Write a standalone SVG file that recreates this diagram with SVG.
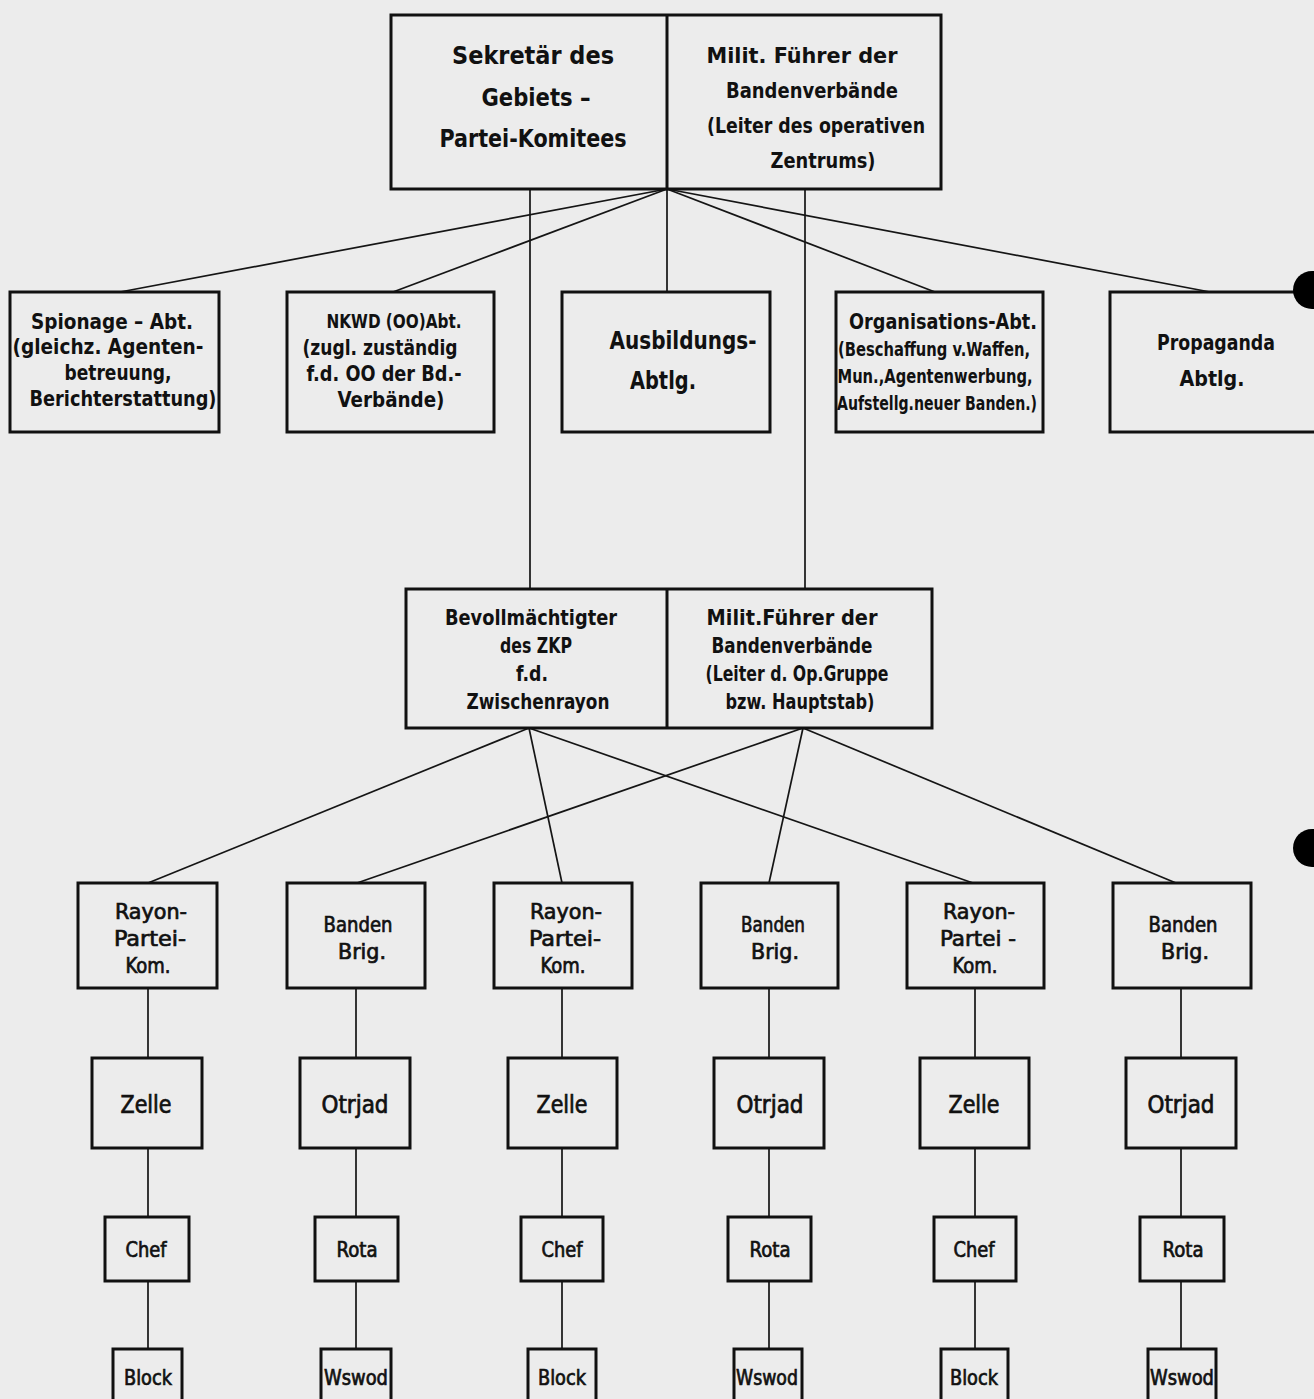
<svg xmlns="http://www.w3.org/2000/svg" width="1314" height="1399" viewBox="0 0 1314 1399">
<style>
.bg{fill:#ececec}
.box{fill:#ececec;stroke:#111;stroke-width:3}
.ln{stroke:#151515;stroke-width:1.7;fill:none}
text{font-family:"DejaVu Sans Condensed","Liberation Sans Narrow","DejaVu Sans","Liberation Sans",sans-serif;fill:#111;text-anchor:middle;font-weight:bold}
.t24{font-size:24px}
.t22{font-size:22px}
.t21{font-size:21px}
.t20{font-size:20px}
.t19{font-size:19px}
.t18{font-size:18px}
.n{font-weight:normal;stroke:#111;stroke-width:0.7}
</style>
<rect class="bg" x="0" y="0" width="1314" height="1399"/>
<g id="connectors">
<line class="ln" x1="667" y1="189" x2="120" y2="292"/>
<line class="ln" x1="667" y1="189" x2="393" y2="292"/>
<line class="ln" x1="667" y1="189" x2="667" y2="292"/>
<line class="ln" x1="667" y1="189" x2="935" y2="292"/>
<line class="ln" x1="667" y1="189" x2="1210" y2="292"/>
<line class="ln" x1="530" y1="189" x2="530" y2="589"/>
<line class="ln" x1="805" y1="189" x2="805" y2="589"/>
<line class="ln" x1="529" y1="728" x2="148" y2="883"/>
<line class="ln" x1="529" y1="728" x2="562" y2="883"/>
<line class="ln" x1="529" y1="728" x2="973" y2="883"/>
<line class="ln" x1="803" y1="728" x2="357" y2="883"/>
<line class="ln" x1="803" y1="728" x2="769" y2="883"/>
<line class="ln" x1="803" y1="728" x2="1176" y2="883"/>
<line class="ln" x1="148" y1="988" x2="148" y2="1349"/>
<line class="ln" x1="356" y1="988" x2="356" y2="1349"/>
<line class="ln" x1="562" y1="988" x2="562" y2="1349"/>
<line class="ln" x1="769" y1="988" x2="769" y2="1349"/>
<line class="ln" x1="975" y1="988" x2="975" y2="1349"/>
<line class="ln" x1="1181" y1="988" x2="1181" y2="1349"/>
</g>
<g id="top">
<rect class="box" x="391" y="15" width="550" height="174"/>
<line x1="667" y1="15" x2="667" y2="189" stroke="#111" stroke-width="3"/>
<text class="t24" x="533" y="64" textLength="162" lengthAdjust="spacingAndGlyphs">Sekretär des</text>
<text class="t24" x="536" y="106" textLength="109" lengthAdjust="spacingAndGlyphs">Gebiets –</text>
<text class="t24" x="533" y="147" textLength="187" lengthAdjust="spacingAndGlyphs">Partei-Komitees</text>
<text class="t22" x="802" y="63" textLength="191" lengthAdjust="spacingAndGlyphs">Milit. Führer der</text>
<text class="t22" x="812" y="98" textLength="172" lengthAdjust="spacingAndGlyphs">Bandenverbände</text>
<text class="t22" x="816" y="133" textLength="218" lengthAdjust="spacingAndGlyphs">(Leiter des operativen</text>
<text class="t22" x="823" y="168" textLength="105" lengthAdjust="spacingAndGlyphs">Zentrums)</text>
</g>
<g id="spionage">
<rect class="box" x="10" y="292" width="209" height="140"/>
<text class="t21" x="112" y="329" textLength="162" lengthAdjust="spacingAndGlyphs">Spionage – Abt.</text>
<text class="t21" x="108" y="354" textLength="191" lengthAdjust="spacingAndGlyphs">(gleichz. Agenten-</text>
<text class="t21" x="118" y="380" textLength="107" lengthAdjust="spacingAndGlyphs">betreuung,</text>
<text class="t21" x="123" y="406" textLength="187" lengthAdjust="spacingAndGlyphs">Berichterstattung)</text>
</g>
<g id="nkwd">
<rect class="box" x="287" y="292" width="207" height="140"/>
<text class="t20" x="394" y="328" textLength="135" lengthAdjust="spacingAndGlyphs">NKWD (OO)Abt.</text>
<text class="t21" x="380" y="355" textLength="155" lengthAdjust="spacingAndGlyphs">(zugl. zuständig</text>
<text class="t21" x="384" y="381" textLength="155" lengthAdjust="spacingAndGlyphs">f.d. OO der Bd.-</text>
<text class="t21" x="391" y="407" textLength="107" lengthAdjust="spacingAndGlyphs">Verbände)</text>
</g>
<g id="ausbildung">
<rect class="box" x="562" y="292" width="208" height="140"/>
<text class="t24" x="683" y="349" textLength="147" lengthAdjust="spacingAndGlyphs">Ausbildungs-</text>
<text class="t24" x="663" y="389" textLength="66" lengthAdjust="spacingAndGlyphs">Abtlg.</text>
</g>
<g id="organisation">
<rect class="box" x="836" y="292" width="207" height="140"/>
<text class="t21" x="943" y="329" textLength="188" lengthAdjust="spacingAndGlyphs">Organisations-Abt.</text>
<text class="t19" x="934" y="356" textLength="192" lengthAdjust="spacingAndGlyphs">(Beschaffung v.Waffen,</text>
<text class="t19" x="935" y="383" textLength="195" lengthAdjust="spacingAndGlyphs">Mun.,Agentenwerbung,</text>
<text class="t19" x="937" y="410" textLength="200" lengthAdjust="spacingAndGlyphs">Aufstellg.neuer Banden.)</text>
</g>
<g id="propaganda">
<rect class="box" x="1110" y="292" width="220" height="140"/>
<text class="t22" x="1216" y="350" textLength="118" lengthAdjust="spacingAndGlyphs">Propaganda</text>
<text class="t22" x="1212" y="386" textLength="65" lengthAdjust="spacingAndGlyphs">Abtlg.</text>
</g>
<g id="dots">
<circle cx="1312" cy="290" r="19" fill="#000"/>
<circle cx="1312" cy="848" r="19" fill="#000"/>
</g>
<g id="middle">
<rect class="box" x="406" y="589" width="526" height="139"/>
<line x1="667" y1="589" x2="667" y2="728" stroke="#111" stroke-width="3"/>
<text class="t21" x="531" y="625" textLength="172" lengthAdjust="spacingAndGlyphs">Bevollmächtigter</text>
<text class="t21" x="536" y="653" textLength="72" lengthAdjust="spacingAndGlyphs">des ZKP</text>
<text class="t21" x="532" y="681" textLength="32" lengthAdjust="spacingAndGlyphs">f.d.</text>
<text class="t21" x="538" y="709" textLength="143" lengthAdjust="spacingAndGlyphs">Zwischenrayon</text>
<text class="t21" x="792" y="625" textLength="171" lengthAdjust="spacingAndGlyphs">Milit.Führer der</text>
<text class="t21" x="792" y="653" textLength="161" lengthAdjust="spacingAndGlyphs">Bandenverbände</text>
<text class="t21" x="797" y="681" textLength="183" lengthAdjust="spacingAndGlyphs">(Leiter d. Op.Gruppe</text>
<text class="t21" x="800" y="709" textLength="149" lengthAdjust="spacingAndGlyphs">bzw. Hauptstab)</text>
</g>
<g id="rayon1">
<rect class="box" x="78" y="883" width="139" height="105"/>
<text class="t22 n" x="151" y="919" textLength="72" lengthAdjust="spacingAndGlyphs">Rayon-</text>
<text class="t22 n" x="150" y="946" textLength="72" lengthAdjust="spacingAndGlyphs">Partei-</text>
<text class="t22 n" x="148" y="973" textLength="45" lengthAdjust="spacingAndGlyphs">Kom.</text>
</g>
<g id="banden2">
<rect class="box" x="287" y="883" width="138" height="105"/>
<text class="t22 n" x="358" y="932" textLength="69" lengthAdjust="spacingAndGlyphs">Banden</text>
<text class="t22 n" x="362" y="959" textLength="48" lengthAdjust="spacingAndGlyphs">Brig.</text>
</g>
<g id="rayon3">
<rect class="box" x="494" y="883" width="138" height="105"/>
<text class="t22 n" x="566" y="919" textLength="72" lengthAdjust="spacingAndGlyphs">Rayon-</text>
<text class="t22 n" x="565" y="946" textLength="72" lengthAdjust="spacingAndGlyphs">Partei-</text>
<text class="t22 n" x="563" y="973" textLength="45" lengthAdjust="spacingAndGlyphs">Kom.</text>
</g>
<g id="banden4">
<rect class="box" x="701" y="883" width="137" height="105"/>
<text class="t22 n" x="773" y="932" textLength="64" lengthAdjust="spacingAndGlyphs">Banden</text>
<text class="t22 n" x="775" y="959" textLength="48" lengthAdjust="spacingAndGlyphs">Brig.</text>
</g>
<g id="rayon5">
<rect class="box" x="907" y="883" width="137" height="105"/>
<text class="t22 n" x="979" y="919" textLength="72" lengthAdjust="spacingAndGlyphs">Rayon-</text>
<text class="t22 n" x="978" y="946" textLength="76" lengthAdjust="spacingAndGlyphs">Partei -</text>
<text class="t22 n" x="975" y="973" textLength="45" lengthAdjust="spacingAndGlyphs">Kom.</text>
</g>
<g id="banden6">
<rect class="box" x="1113" y="883" width="138" height="105"/>
<text class="t22 n" x="1183" y="932" textLength="69" lengthAdjust="spacingAndGlyphs">Banden</text>
<text class="t22 n" x="1185" y="959" textLength="48" lengthAdjust="spacingAndGlyphs">Brig.</text>
</g>
<g id="zelle1"><rect class="box" x="92" y="1058" width="110" height="90"/><text class="t24 n" x="146" y="1113" textLength="51" lengthAdjust="spacingAndGlyphs">Zelle</text></g>
<g id="otrjad2"><rect class="box" x="300" y="1058" width="110" height="90"/><text class="t24 n" x="355" y="1113" textLength="67" lengthAdjust="spacingAndGlyphs">Otrjad</text></g>
<g id="zelle3"><rect class="box" x="508" y="1058" width="109" height="90"/><text class="t24 n" x="562" y="1113" textLength="51" lengthAdjust="spacingAndGlyphs">Zelle</text></g>
<g id="otrjad4"><rect class="box" x="714" y="1058" width="110" height="90"/><text class="t24 n" x="770" y="1113" textLength="67" lengthAdjust="spacingAndGlyphs">Otrjad</text></g>
<g id="zelle5"><rect class="box" x="920" y="1058" width="109" height="90"/><text class="t24 n" x="974" y="1113" textLength="51" lengthAdjust="spacingAndGlyphs">Zelle</text></g>
<g id="otrjad6"><rect class="box" x="1126" y="1058" width="110" height="90"/><text class="t24 n" x="1181" y="1113" textLength="67" lengthAdjust="spacingAndGlyphs">Otrjad</text></g>
<g id="chef1"><rect class="box" x="105" y="1217" width="84" height="64"/><text class="t21 n" x="146" y="1257" textLength="41" lengthAdjust="spacingAndGlyphs">Chef</text></g>
<g id="rota2"><rect class="box" x="315" y="1217" width="83" height="64"/><text class="t21 n" x="357" y="1257" textLength="41" lengthAdjust="spacingAndGlyphs">Rota</text></g>
<g id="chef3"><rect class="box" x="521" y="1217" width="82" height="64"/><text class="t21 n" x="562" y="1257" textLength="41" lengthAdjust="spacingAndGlyphs">Chef</text></g>
<g id="rota4"><rect class="box" x="728" y="1217" width="83" height="64"/><text class="t21 n" x="770" y="1257" textLength="41" lengthAdjust="spacingAndGlyphs">Rota</text></g>
<g id="chef5"><rect class="box" x="934" y="1217" width="82" height="64"/><text class="t21 n" x="974" y="1257" textLength="41" lengthAdjust="spacingAndGlyphs">Chef</text></g>
<g id="rota6"><rect class="box" x="1140" y="1217" width="84" height="64"/><text class="t21 n" x="1183" y="1257" textLength="41" lengthAdjust="spacingAndGlyphs">Rota</text></g>
<g id="block1"><rect class="box" x="113" y="1349" width="69" height="60"/><text class="t21 n" x="148" y="1385" textLength="48" lengthAdjust="spacingAndGlyphs">Block</text></g>
<g id="wswod2"><rect class="box" x="321" y="1349" width="70" height="60"/><text class="t21 n" x="356" y="1385" textLength="64" lengthAdjust="spacingAndGlyphs">Wswod</text></g>
<g id="block3"><rect class="box" x="528" y="1349" width="68" height="60"/><text class="t21 n" x="562" y="1385" textLength="48" lengthAdjust="spacingAndGlyphs">Block</text></g>
<g id="wswod4"><rect class="box" x="734" y="1349" width="68" height="60"/><text class="t21 n" x="767" y="1385" textLength="62" lengthAdjust="spacingAndGlyphs">Wswod</text></g>
<g id="block5"><rect class="box" x="941" y="1349" width="67" height="60"/><text class="t21 n" x="974" y="1385" textLength="48" lengthAdjust="spacingAndGlyphs">Block</text></g>
<g id="wswod6"><rect class="box" x="1148" y="1349" width="68" height="60"/><text class="t21 n" x="1182" y="1385" textLength="64" lengthAdjust="spacingAndGlyphs">Wswod</text></g>
</svg>
